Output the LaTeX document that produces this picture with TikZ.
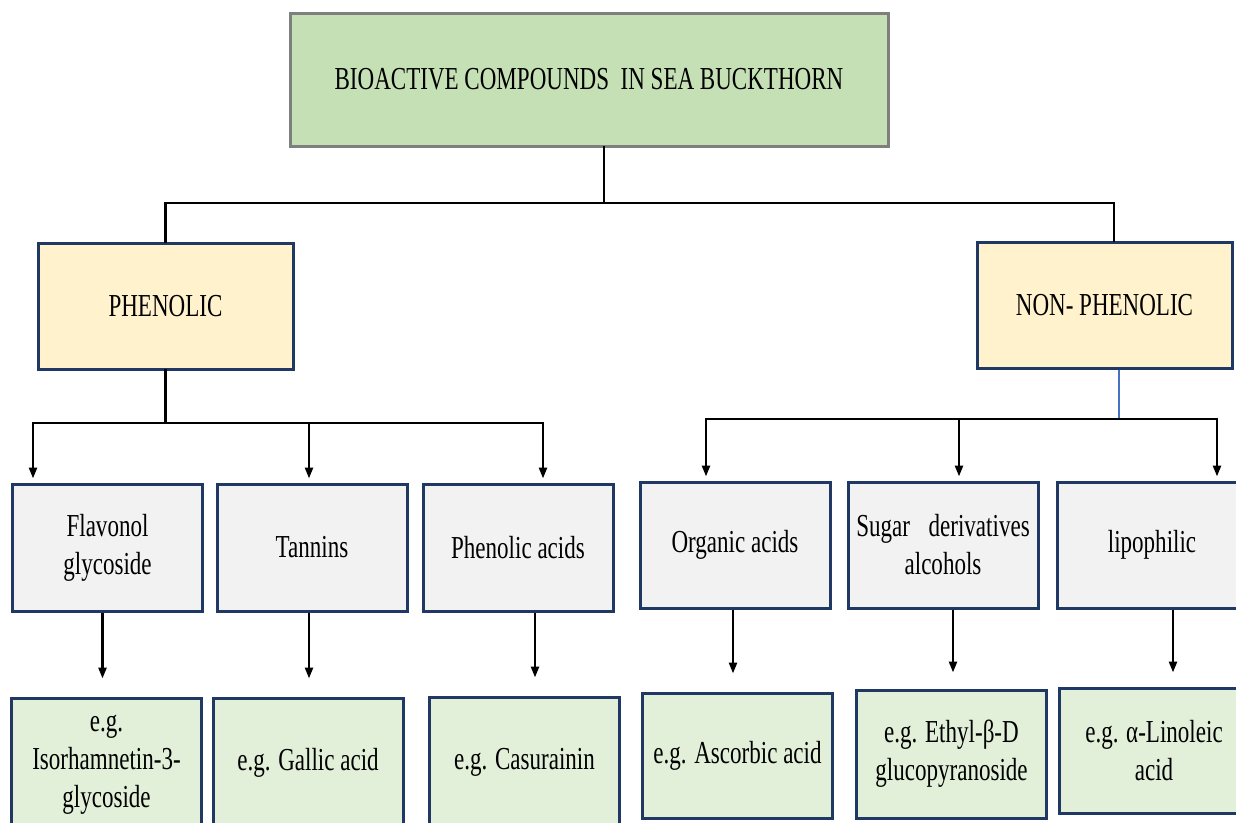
\documentclass[tikz,border=0pt]{standalone}
\usepackage{fontspec}
\setmainfont{Liberation Serif}[FakeStretch=0.72]
\usetikzlibrary{arrows.meta}

\definecolor{titlegreen}{HTML}{C5E0B4}
\definecolor{titleborder}{HTML}{7F7F7F}
\definecolor{groupyellow}{HTML}{FFF2CC}
\definecolor{classgray}{HTML}{F2F2F2}
\definecolor{examplegreen}{HTML}{E2F0D9}
\definecolor{boxnavy}{HTML}{203864}
\definecolor{linkblue}{HTML}{4472C4}

\begin{document}
\begin{tikzpicture}[x=1pt, y=-1pt,
    font=\fontsize{32}{38}\selectfont,
    every node/.style={align=center, inner sep=2pt},
    topbox/.style={draw=titleborder, fill=titlegreen, line width=3pt,
      minimum width=598pt, minimum height=133pt},
    groupbox/.style={draw=boxnavy, fill=groupyellow, line width=3pt,
      minimum width=255pt, minimum height=126pt},
    classbox/.style={draw=boxnavy, fill=classgray, line width=3pt,
      minimum width=190pt, minimum height=127pt},
    examplebox/.style={draw=boxnavy, fill=examplegreen, line width=3pt,
      minimum width=190pt, minimum height=128pt},
    conn/.style={line width=2.5pt, line cap=rect},
    link/.style={draw=linkblue, line width=1.5pt},
    arr/.style={line width=2.5pt, shorten >=4pt,
      -{Triangle[length=11pt,width=8pt]}}
  ]
    \useasboundingbox (0,0) rectangle (1236,822);
    \clip (0,0) rectangle (1236,822);

    % title and the two groups
    \node[topbox] (title) at (589,79.5) {BIOACTIVE COMPOUNDS\ \ IN SEA BUCKTHORN};
    \node[groupbox] (phen) at (165.5,306) {PHENOLIC};
    \node[groupbox] (nonphen) at (1104.5,305) {NON- PHENOLIC};

    % classes
    \node[classbox] (flav) at (107.5,547.5) {Flavonol\\glycoside};
    \node[classbox] (tann) at (312,547.5) {Tannins};
    \node[classbox] (phacid) at (518,547.5) {Phenolic acids};
    \node[classbox, minimum height=126pt] (organic) at (735,545) {Organic acids};
    \node[classbox, minimum height=126pt] (sugar) at (943,545)
      {Sugar\hspace{0.4em} derivatives\\alcohols};
    \node[classbox, minimum height=126pt] (lipo) at (1152,545) {lipophilic};

    % examples
    \node[examplebox, minimum height=134pt] (iso) at (106.5,765)
      {e.g.\\Isorhamnetin-3-\\glycoside};
    \node[examplebox, minimum height=130pt] (gallic) at (308,763) {e.g. Gallic acid};
    \node[examplebox, minimum height=130pt] (casur) at (524.5,762) {e.g. Casurainin};
    \node[examplebox, minimum height=125pt] (ascorbic) at (737.5,755.5) {e.g. Ascorbic acid};
    \node[examplebox] (ethyl) at (951.5,754) {e.g. Ethyl-β-D\\glucopyranoside};
    \node[examplebox, minimum height=125pt] (linol) at (1154,750.5) {e.g. α-Linoleic\\acid};

    % top level split
    \coordinate (top bus) at (604,203);
    \coordinate (np drop) at (1114,203);
    \draw[conn] (title.south -| top bus) -- (top bus);
    \draw[conn] (phen.north) |- (np drop) -- (np drop |- nonphen.north);

    % phenolic branch
    \coordinate (ph left) at (33,423);
    \coordinate (ph right) at (543,423);
    \draw[conn] (phen.south) -- (phen.south |- ph left);
    \draw[conn] (ph left) -- (ph right);
    \draw[arr] (ph left) -- (ph left |- flav.north);
    \draw[arr] ([xshift=-3pt]tann.north |- ph left) -- ([xshift=-3pt]tann.north);
    \draw[arr] (ph right) -- (ph right |- phacid.north);

    % non-phenolic branch
    \coordinate (np bus) at (1119,419);
    \coordinate (np left) at (706,419);
    \coordinate (np right) at (1217,419);
    \draw[link] (nonphen.south -| np bus) -- (np bus);
    \draw[conn] (np left) -- (np right);
    \draw[arr] (np left) -- (np left |- organic.north);
    \draw[arr] ([xshift=16pt]sugar.north |- np left) -- ([xshift=16pt]sugar.north);
    \draw[arr] (np right) -- (np right |- lipo.north);

    % class to example
    \draw[arr, shorten >=18pt] ([xshift=-5pt]flav.south) -- ([xshift=-5pt]flav.south |- iso.north);
    \draw[arr, shorten >=18pt] ([xshift=-3pt]tann.south) -- ([xshift=-3pt]tann.south |- gallic.north);
    \draw[arr, shorten >=18pt] ([xshift=17pt]phacid.south) -- ([xshift=17pt]phacid.south |- casur.north);
    \draw[arr, shorten >=18pt] ([xshift=-2pt]organic.south) -- ([xshift=-2pt]organic.south |- ascorbic.north);
    \draw[arr, shorten >=16pt] ([xshift=10pt]sugar.south) -- ([xshift=10pt]sugar.south |- ethyl.north);
    \draw[arr, shorten >=14pt] ([xshift=21pt]lipo.south) -- ([xshift=21pt]lipo.south |- linol.north);
\end{tikzpicture}
\end{document}
